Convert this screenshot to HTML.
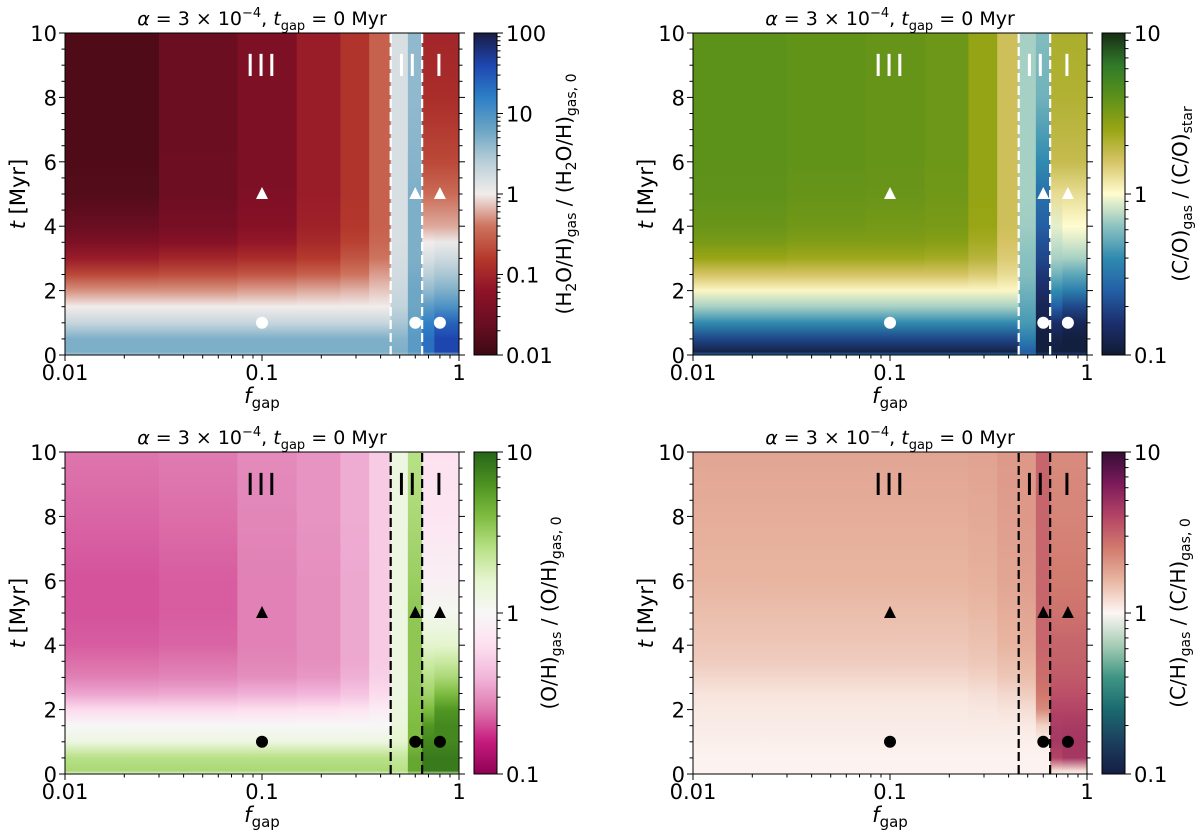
<!DOCTYPE html>
<html><head><meta charset="utf-8">
<style>
html,body{margin:0;padding:0;background:#fff;}
svg{display:block;font-family:"DejaVu Sans","Liberation Sans",sans-serif;}
</style></head>
<body>
<svg id="fig" width="1200" height="836" viewBox="0 0 1200 836" xmlns="http://www.w3.org/2000/svg"></svg>
<script>
// ---- data ----
const times = [0, 0.1, 0.5, 1, 1.5, 2, 2.5, 3, 3.5, 4, 5, 6, 8, 10];
const fgap = [0.01, 0.05, 0.1, 0.2, 0.3, 0.4, 0.5, 0.6, 0.7, 0.8];
const h2oValues = [
 [3,5,5,2.0,1.0,0.5,0.2,0.08,0.04,0.025,0.016,0.015,0.015,0.015],
 [3,5,5,2.0,1.0,0.5,0.22,0.1,0.05,0.035,0.028,0.027,0.026,0.026],
 [3,5,5,2.0,1.0,0.55,0.25,0.12,0.07,0.05,0.042,0.04,0.04,0.04],
 [3,5,5,2.0,1.0,0.6,0.3,0.16,0.11,0.09,0.08,0.08,0.08,0.08],
 [3,5,5,2.0,1.0,0.65,0.4,0.25,0.18,0.15,0.14,0.14,0.14,0.14],
 [3,5,5,2.0,1.0,0.75,0.55,0.4,0.33,0.3,0.3,0.3,0.3,0.3],
 [3,5,4.5,3,2.2,1.9,1.7,1.6,1.5,1.5,1.5,1.5,1.5,1.5],
 [4,8,8,7,6,6,5.5,5,5,5,5,4.5,4,4],
 [4,20,20,15,8,4,2.5,1.5,1.0,0.6,0.35,0.2,0.12,0.1],
 [4,40,40,25,10,5,3,1.8,1.1,0.6,0.35,0.2,0.12,0.1]
];
const coValues = [
 [0.3,0.12,0.2,0.4,0.7,1.05,1.6,2.5,3.2,3.6,3.9,4,4,4],
 [0.3,0.12,0.2,0.4,0.7,1.05,1.6,2.4,3.0,3.4,3.7,3.8,3.8,3.8],
 [0.3,0.12,0.2,0.4,0.7,1.05,1.6,2.4,3.0,3.3,3.6,3.7,3.7,3.7],
 [0.3,0.12,0.2,0.4,0.7,1.05,1.6,2.3,2.9,3.2,3.4,3.5,3.5,3.5],
 [0.3,0.12,0.2,0.4,0.7,1.05,1.5,2.0,2.3,2.5,2.6,2.6,2.6,2.6],
 [0.3,0.12,0.2,0.4,0.7,1.05,1.3,1.5,1.6,1.7,1.7,1.7,1.7,1.7],
 [0.3,0.25,0.35,0.45,0.5,0.55,0.6,0.62,0.65,0.68,0.7,0.7,0.7,0.7],
 [0.2,0.11,0.11,0.12,0.13,0.15,0.17,0.2,0.22,0.25,0.3,0.4,0.55,0.6],
 [0.2,0.11,0.12,0.15,0.25,0.4,0.55,0.7,0.8,0.9,1.3,1.8,2.1,2.2],
 [0.2,0.11,0.11,0.13,0.2,0.35,0.5,0.7,0.85,1.0,1.3,1.8,2.1,2.2]
];
const ohValues = [
 [1.5,2.8,2.5,1.3,1.0,0.6,0.35,0.27,0.24,0.22,0.21,0.21,0.23,0.25],
 [1.5,2.8,2.5,1.3,1.0,0.6,0.36,0.28,0.25,0.23,0.22,0.22,0.24,0.26],
 [1.5,2.8,2.5,1.3,1.0,0.62,0.38,0.3,0.28,0.27,0.27,0.27,0.28,0.29],
 [1.5,2.8,2.5,1.3,1.0,0.64,0.4,0.32,0.3,0.3,0.3,0.3,0.31,0.31],
 [1.5,2.8,2.5,1.3,1.0,0.68,0.46,0.38,0.36,0.36,0.36,0.36,0.37,0.37],
 [1.5,2.8,2.5,1.3,1.0,0.78,0.6,0.53,0.5,0.5,0.5,0.5,0.5,0.5],
 [1.5,2.5,2.2,1.6,1.4,1.35,1.3,1.3,1.3,1.3,1.3,1.3,1.3,1.3],
 [2,5,5,4,4,3.8,3.6,3.5,3.5,3.5,3.5,3.2,2.8,2.5],
 [2,8,8,7,6,4,3,2.5,2,1.6,1.1,0.85,0.7,0.65],
 [2,8,8,7,7,6,4,2.8,2.1,1.6,1.1,0.85,0.7,0.65]
];
const chValues = [
 [1.02,1.02,1.03,1.05,1.08,1.1,1.15,1.25,1.35,1.4,1.5,1.6,1.7,1.8],
 [1.02,1.02,1.03,1.05,1.08,1.1,1.15,1.25,1.35,1.4,1.5,1.6,1.7,1.8],
 [1.02,1.02,1.03,1.05,1.08,1.1,1.15,1.25,1.35,1.4,1.5,1.6,1.7,1.8],
 [1.02,1.02,1.03,1.05,1.08,1.1,1.15,1.25,1.35,1.4,1.5,1.6,1.7,1.8],
 [1.02,1.02,1.03,1.05,1.08,1.12,1.18,1.3,1.4,1.45,1.55,1.65,1.75,1.85],
 [1.02,1.02,1.03,1.05,1.08,1.15,1.25,1.4,1.5,1.6,1.7,1.8,1.9,2.0],
 [1.02,1.02,1.03,1.05,1.1,1.2,1.35,1.5,1.6,1.7,1.8,1.9,2.0,2.0],
 [1.02,1.02,1.03,1.05,1.3,2.2,2.6,2.8,2.9,3.0,3.0,3.0,3.0,3.0],
 [1.05,1.2,4.0,4.5,4.3,4.0,3.6,3.3,3.1,3.0,2.7,2.5,2.3,2.2],
 [1.05,1.2,4.5,4.6,4.4,4.0,3.6,3.3,3.1,3.0,2.7,2.5,2.3,2.2]
];
const dividerF = [0.45, 0.65];
const markerF = [0.1, 0.6, 0.8];
const triangleT = 5;
const circleT = 1;
const regionLabels = ['III', 'II', 'I'];
const regionF = [0.1, 0.55, 0.8];
const regionT = 9;
const yTicks = [0, 2, 4, 6, 8, 10];
const xTicks = [0.01, 0.1, 1];
const xTickLabels = ['0.01', '0.1', '1'];

const cmBalanceR = ['#3c0912','#6a0e22','#8f1228','#b5392b','#cd735d','#f1eceb','#b9cfd8','#6aa4c4','#2d7fc6','#1e46b0','#181c43'];
const cmDelta = ['#111b33','#1c2f6e','#245fa6','#2f8ab0','#8cc3c0','#fffcd0','#d6c466','#99a514','#5c911a','#307a2a','#172d14'];
const cmPiYG = ['#8e0152','#c51b7d','#de77ae','#f1b6da','#fde0ef','#f7f7f7','#e6f5d0','#b8e186','#7fbc41','#4d9221','#276419'];
const cmCurl = ['#151d44','#1c3f5e','#1a6a6f','#3f9584','#a6cdb5','#fdf6f4','#e8b6a2','#d27a6e','#b44466','#7d1b5a','#340d35'];

const panels = [
 {name:'h2o', x0:65, y0:33, vals:h2oValues, cm:cmBalanceR, lo:-2, hi:2, cbTicks:['0.01','0.1','1','10','100'], mk:'#fff', lbl:[], lblOff:506},
 {name:'co', x0:693, y0:33, vals:coValues, cm:cmDelta, lo:-1, hi:1, cbTicks:['0.1','1','10'], mk:'#fff', lbl:['(C/O)','gas',' / (C/O)','star'], lblOff:494},
 {name:'oh', x0:65, y0:452, vals:ohValues, cm:cmPiYG, lo:-1, hi:1, cbTicks:['0.1','1','10'], mk:'#000', lbl:['(O/H)','gas',' / (O/H)','gas, 0'], lblOff:491},
 {name:'ch', x0:693, y0:452, vals:chValues, cm:cmCurl, lo:-1, hi:1, cbTicks:['0.1','1','10'], mk:'#000', lbl:['(C/H)','gas',' / (C/H)','gas, 0'], lblOff:492}
];
const W = 394, H = 322;
const NS = 'http://www.w3.org/2000/svg';
const svg = document.getElementById('fig');
const defs = document.createElementNS(NS,'defs');
svg.appendChild(defs);

function mk(tag, attrs, parent){ const e=document.createElementNS(NS,tag); for(const k in attrs) e.setAttribute(k,attrs[k]); (parent||svg).appendChild(e); return e; }
function hex2rgb(h){return [parseInt(h.slice(1,3),16),parseInt(h.slice(3,5),16),parseInt(h.slice(5,7),16)];}
function cmap(stops, p){
  p=Math.max(0,Math.min(1,p)); const n=stops.length-1; const i=Math.min(n-1,Math.floor(p*n)); const f=p*n-i;
  const a=hex2rgb(stops[i]), b=hex2rgb(stops[i+1]);
  return 'rgb('+a.map((v,k)=>Math.round(v+(b[k]-v)*f)).join(',')+')';
}

panels.forEach((P, pi) => {
  const xs = f => P.x0 + (Math.log10(f) + 2) / 2 * W;
  const ys = t => P.y0 + H - t / 10 * H;
  const norm = v => (Math.log10(v) - P.lo) / (P.hi - P.lo);
  const g = mk('g', {});
  
  

  fgap.forEach((f, ci) => {
    const left = ci === 0 ? 0.01 : (fgap[ci-1] + f) / 2;
    const right = ci === fgap.length - 1 ? 1 : (f + fgap[ci+1]) / 2;
    const gid = 'g' + pi + '_' + ci;
    const lg = mk('linearGradient', {id:gid, gradientUnits:'userSpaceOnUse', x1:0, x2:0, y1:ys(0), y2:ys(10)}, defs);
    times.forEach((t, ti) => {
      mk('stop', {offset: t / 10, 'stop-color': cmap(P.cm, norm(P.vals[ci][ti]))}, lg);
    });
    const r = mk('rect', {x: xs(left), y: ys(10), width: xs(right) - xs(left) + 0.5, height: H, fill: 'url(#' + gid + ')'}, g);
    
    
  });

  dividerF.forEach(f => {
    const l = mk('line', {x1: xs(f), x2: xs(f), y1: ys(0), y2: ys(10), stroke: P.mk, 'stroke-width': 2.2, 'stroke-dasharray': '9,4'}, g);
    
    
  });
  regionLabels.forEach((s, i) => {
    const tx = mk('text', {x: xs(regionF[i]), y: ys(regionT) + 11, 'text-anchor': 'middle', 'font-size': 30, fill: P.mk, 'letter-spacing': '2'}, g);
    tx.textContent = s;
    
    
  });
  markerF.forEach(f => {
    const cx = xs(f), ty = ys(triangleT), cy = ys(circleT);
    const tri = mk('polygon', {points: (cx-6)+','+(ty+5)+' '+(cx+6)+','+(ty+5)+' '+cx+','+(ty-7), fill: P.mk}, g);
    
    
    const c = mk('circle', {cx: cx, cy: cy, r: 6, fill: P.mk}, g);
    
    
  });

  mk('rect', {x: P.x0, y: P.y0, width: W, height: H, fill: 'none', stroke: '#000', 'stroke-width': 1}, g);

  for (let d = -2; d <= 0; d++) {
    for (let m = 1; m <= 9; m++) {
      const v = Math.pow(10, d) * m; if (v > 1) break;
      const x = xs(v); const len = m === 1 ? 6 : 3.5;
      mk('line', {x1: x, x2: x, y1: P.y0 + H, y2: P.y0 + H + len, stroke: '#000', 'stroke-width': 1}, g);
    }
  }
  xTicks.forEach((v, i) => {
    const tx = mk('text', {x: xs(v), y: P.y0 + H + 25, 'text-anchor': 'middle', 'font-size': 21}, g);
    tx.textContent = xTickLabels[i];
    
    
  });
  for (let t = 0; t <= 10; t += 0.5) {
    const y = ys(t); const major = t % 2 === 0; const len = major ? 6 : 3.5;
    mk('line', {x1: P.x0 - len, x2: P.x0, y1: y, y2: y, stroke: '#000', 'stroke-width': 1}, g);
    mk('line', {x1: P.x0 + W, x2: P.x0 + W + len, y1: y, y2: y, stroke: '#000', 'stroke-width': 1}, g);
  }
  yTicks.forEach(t => {
    const tx = mk('text', {x: P.x0 - 8, y: ys(t) + 8, 'text-anchor': 'end', 'font-size': 21}, g);
    tx.textContent = String(t);
    
    
  });
  const xl = mk('text', {x: P.x0 + W / 2, y: P.y0 + H + 48, 'text-anchor': 'middle', 'font-size': 21}, g);
  xl.innerHTML = '<tspan font-style="italic">f</tspan><tspan font-size="15" dy="5">gap</tspan>';
  
  
  const yl = mk('text', {x: 0, y: 0, 'text-anchor': 'middle', 'font-size': 21, transform: 'translate(' + (P.x0 - 40) + ',' + (P.y0 + H / 2) + ') rotate(-90)'}, g);
  yl.innerHTML = '<tspan font-style="italic">t</tspan> [Myr]';
  
  
  const ti = mk('text', {x: P.x0 + W / 2, y: P.y0 - 8, 'text-anchor': 'middle', 'font-size': 19}, g);
  ti.innerHTML = '<tspan font-style="italic">α</tspan> = 3 × 10<tspan font-size="13" dy="-8">−4</tspan><tspan dy="8">, </tspan><tspan font-style="italic">t</tspan><tspan font-size="13" dy="5">gap</tspan><tspan dy="-5"> = 0 Myr</tspan>';
  
  

  const cbx = P.x0 + W + 15, cbw = 23;
  const cgid = 'cb' + pi;
  const clg = mk('linearGradient', {id: cgid, x1: 0, x2: 0, y1: 1, y2: 0}, defs);
  for (let k = 0; k <= 40; k++) mk('stop', {offset: k / 40, 'stop-color': cmap(P.cm, k / 40)}, clg);
  const cb = mk('rect', {x: cbx, y: P.y0, width: cbw, height: H, fill: 'url(#' + cgid + ')', stroke: '#000', 'stroke-width': 1}, g);
  
  
  const dec = P.hi - P.lo;
  for (let d = P.lo; d < P.hi; d++) {
    for (let m = 1; m <= 9; m++) {
      const y = P.y0 + H - (d - P.lo + Math.log10(m)) / dec * H;
      mk('line', {x1: cbx + cbw, x2: cbx + cbw + (m === 1 ? 6 : 3.5), y1: y, y2: y, stroke: '#000', 'stroke-width': 1}, g);
    }
  }
  mk('line', {x1: cbx + cbw, x2: cbx + cbw + 6, y1: P.y0, y2: P.y0, stroke: '#000', 'stroke-width': 1}, g);
  P.cbTicks.forEach((s, i) => {
    const y = P.y0 + H - i / (P.cbTicks.length - 1) * H;
    const tx = mk('text', {x: cbx + cbw + 9, y: y + 8, 'font-size': 21}, g);
    tx.textContent = s;
    
    
  });
  let html;
  if (P.name === 'h2o') {
    html = '(H<tspan font-size="14" dy="5">2</tspan><tspan dy="-5">O/H)</tspan><tspan font-size="14" dy="5">gas</tspan><tspan dy="-5"> / (H</tspan><tspan font-size="14" dy="5">2</tspan><tspan dy="-5">O/H)</tspan><tspan font-size="14" dy="5">gas, 0</tspan>';
  } else {
    const p = P.lbl;
    html = p[0] + '<tspan font-size="14" dy="5">' + p[1] + '</tspan><tspan dy="-5">' + p[2] + '</tspan><tspan font-size="14" dy="5">' + p[3] + '</tspan>';
  }
  const cl = mk('text', {x: 0, y: 0, 'text-anchor': 'middle', 'font-size': 20, transform: 'translate(' + (P.x0 + P.lblOff) + ',' + (P.y0 + H / 2) + ') rotate(-90)'}, g);
  cl.innerHTML = html;
  
  
});
</script>
</body></html>
